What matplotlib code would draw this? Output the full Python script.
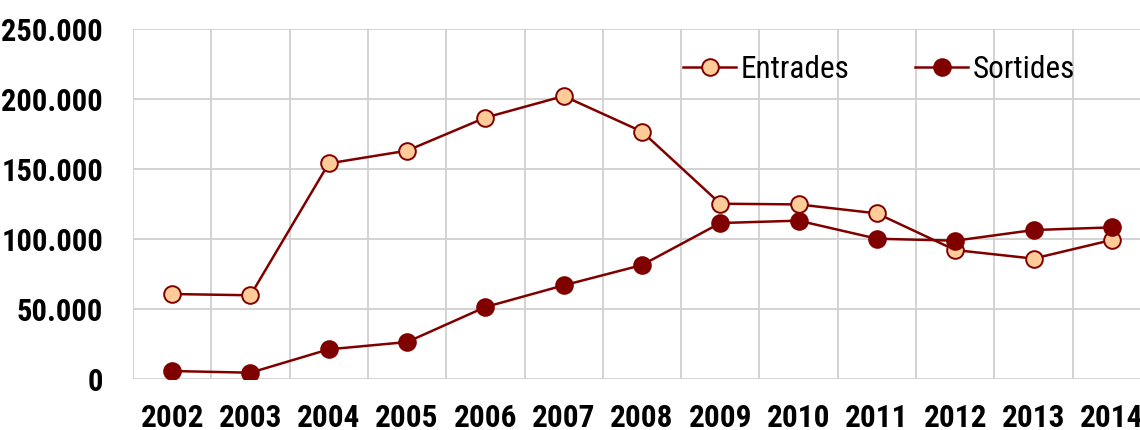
import matplotlib
matplotlib.use("Agg")
import matplotlib.pyplot as plt
from matplotlib import font_manager
from matplotlib.ticker import FuncFormatter

years = ["2002", "2003", "2004", "2005", "2006", "2007", "2008",
         "2009", "2010", "2011", "2012", "2013", "2014"]
entrades = [60700, 59800, 154000, 163100, 186700, 202100, 176700,
            125200, 124700, 118300, 92100, 86000, 99300]
sortides = [5700, 4500, 21200, 26400, 51400, 66900, 81400,
            111400, 113100, 100200, 98800, 106400, 108300]
yticks = [0, 50000, 100000, 150000, 200000, 250000]

fonts = font_manager.fontManager.ttflist
fam = "DejaVu Sans"
for cand in ["Liberation Sans Narrow", "Arial Narrow", "Roboto Condensed", "Archivo Narrow",
             "PT Sans Narrow", "Pragati Narrow", "Fira Sans Condensed"]:
    ws = [f.weight for f in fonts if f.name == cand]
    if any((w if isinstance(w, int) else 700 if w == 'bold' else 400) >= 700 for w in ws):
        fam = cand
        break
plt.rcParams['font.family'] = [fam, 'DejaVu Sans']

W, H = 1140, 430
fig = plt.figure(figsize=(W / 100, H / 100), dpi=100)
left, right, top, bottom = 133, 1151, 29, 379
ax = fig.add_axes([left / W, 1 - bottom / H, (right - left) / W, (bottom - top) / H])

dark = "#800000"
x = list(range(len(years)))
ax.plot(x, entrades, color=dark, lw=1.8, marker='o', ms=12,
        mfc="#FFCC99", mec=dark, mew=1.4, label="Entrades", zorder=3)
ax.plot(x, sortides, color=dark, lw=1.8, marker='o', ms=12,
        mfc=dark, mec=dark, mew=1.4, label="Sortides", zorder=3)

ax.set_xlim(-0.5, len(years) - 0.5)
ax.set_ylim(0, 250000)
ax.set_yticks(yticks)
ax.yaxis.set_major_formatter(FuncFormatter(lambda v, p: f"{int(v):,}".replace(",", ".")))
ax.set_xticks(x)
ax.set_xticklabels(years)
ax.set_xticks([i - 0.5 for i in range(len(years) + 1)], minor=True)

for s in ax.spines.values():
    s.set_visible(False)
ax.grid(True, which='major', axis='y', color="#D0D0D0", lw=1.3)
ax.grid(True, which='minor', axis='x', color="#D0D0D0", lw=1.3)
ax.set_axisbelow(True)
ax.tick_params(axis='both', which='both', length=0)
ax.tick_params(axis='y', pad=21.5, labelsize=22)
ax.tick_params(axis='x', pad=17, labelsize=22.5)
for t in ax.get_xticklabels() + ax.get_yticklabels():
    t.set_fontweight('bold')

leg = ax.legend(loc='upper left', bbox_to_anchor=((683 - left) / (right - left), 1 - (55 - top) / (bottom - top)),
                ncol=2, frameon=False, fontsize=22.5, handlelength=1.7, handletextpad=0.15,
                columnspacing=2.1, borderaxespad=0, borderpad=0)
for t in leg.get_texts():
    t.set_fontweight('normal')

fig.savefig("out.png", dpi=100)
